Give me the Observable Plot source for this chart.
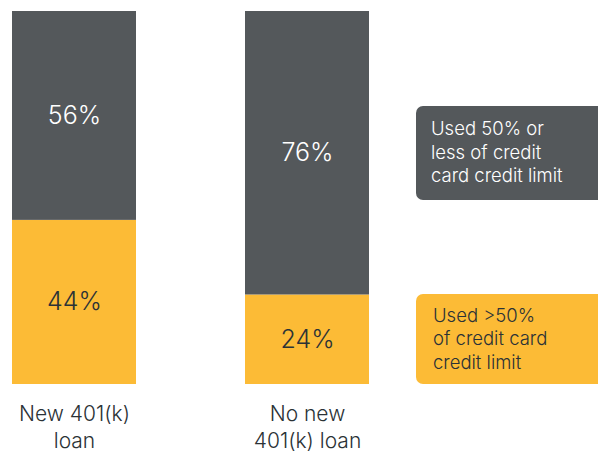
<!DOCTYPE html>
<html>
<head>
<meta charset="utf-8">
<script src="https://cdn.jsdelivr.net/npm/d3@7"></script>
<script src="https://cdn.jsdelivr.net/npm/@observablehq/plot@0.6"></script>
<style>
  html, body { margin: 0; padding: 0; background: #fff; }
  #wrap { position: relative; width: 598px; height: 454px; font-family: Inter, "Liberation Sans", sans-serif; }
  .leg { position: absolute; left: 416px; width: 182px; box-sizing: border-box; border-radius: 7px 0 0 7px;
         font-size: 18.5px; line-height: 23.5px; white-space: pre; display: flex; align-items: center; font-weight: 300; }
</style>
</head>
<body>
<div id="wrap"></div>
<script>
const categories = ["New 401(k)\nloan", "No new\n401(k) loan"];
const over50 = [44, 24];
const under50 = [56, 76];
const seriesNames = ["over", "under"];
const seriesLabels = ["Used >50%\nof credit card\ncredit limit", "Used 50% or\nless of credit\ncard credit limit"];
const seriesColors = ["#fcbb36", "#54585b"];
const labelColors = ["#2b3236", "#ffffff"];

const data = [];
categories.forEach((c, i) => {
  data.push({cat: c, series: seriesNames[0], value: over50[i]});
  data.push({cat: c, series: seriesNames[1], value: under50[i]});
});

const chart = Plot.plot({
  width: 598,
  height: 454,
  marginTop: 0, marginBottom: 0, marginLeft: 0, marginRight: 0,
  style: {fontFamily: "Inter, 'Liberation Sans', sans-serif", background: "transparent"},
  x: {domain: categories, range: [12, 369], paddingInner: 0.468, paddingOuter: 0, axis: null},
  y: {domain: [0, 100], range: [384, 11], axis: null},
  color: {domain: seriesNames, range: seriesColors},
  marks: [
    Plot.barY(data, Plot.stackY({x: "cat", y: "value", fill: "series", order: null})),
    Plot.text(data, Plot.stackY({x: "cat", y: "value", z: "series", order: null,
      text: d => d.value + "%",
      fill: d => labelColors[seriesNames.indexOf(d.series)],
      fontSize: 25, fontWeight: 300})),
    Plot.text(categories, {x: d => d, y: () => 0, text: d => d, dy: 17, lineAnchor: "top",
      lineHeight: 1.3, fontSize: 21, fill: "#2b3236", fontWeight: 300})
  ]
});

const wrap = document.getElementById("wrap");
wrap.appendChild(chart);

// legend boxes aligned with the second bar's segments
const yS = chart.scale("y");
const sy = v => yS.apply(v);
const segs = [[0, over50[1]], [over50[1], 100]];
const boxH = [90, 94];
segs.forEach((s, i) => {
  const mid = (sy(s[0]) + sy(s[1])) / 2;
  const d = document.createElement("div");
  d.className = "leg";
  d.style.top = (mid - boxH[i] / 2) + "px";
  d.style.height = boxH[i] + "px";
  d.style.background = seriesColors[i];
  d.style.color = labelColors[i];
  d.style.paddingLeft = (i === 0 ? 17 : 15) + "px";
  d.textContent = seriesLabels[i];
  wrap.appendChild(d);
});
</script>
</body>
</html>
